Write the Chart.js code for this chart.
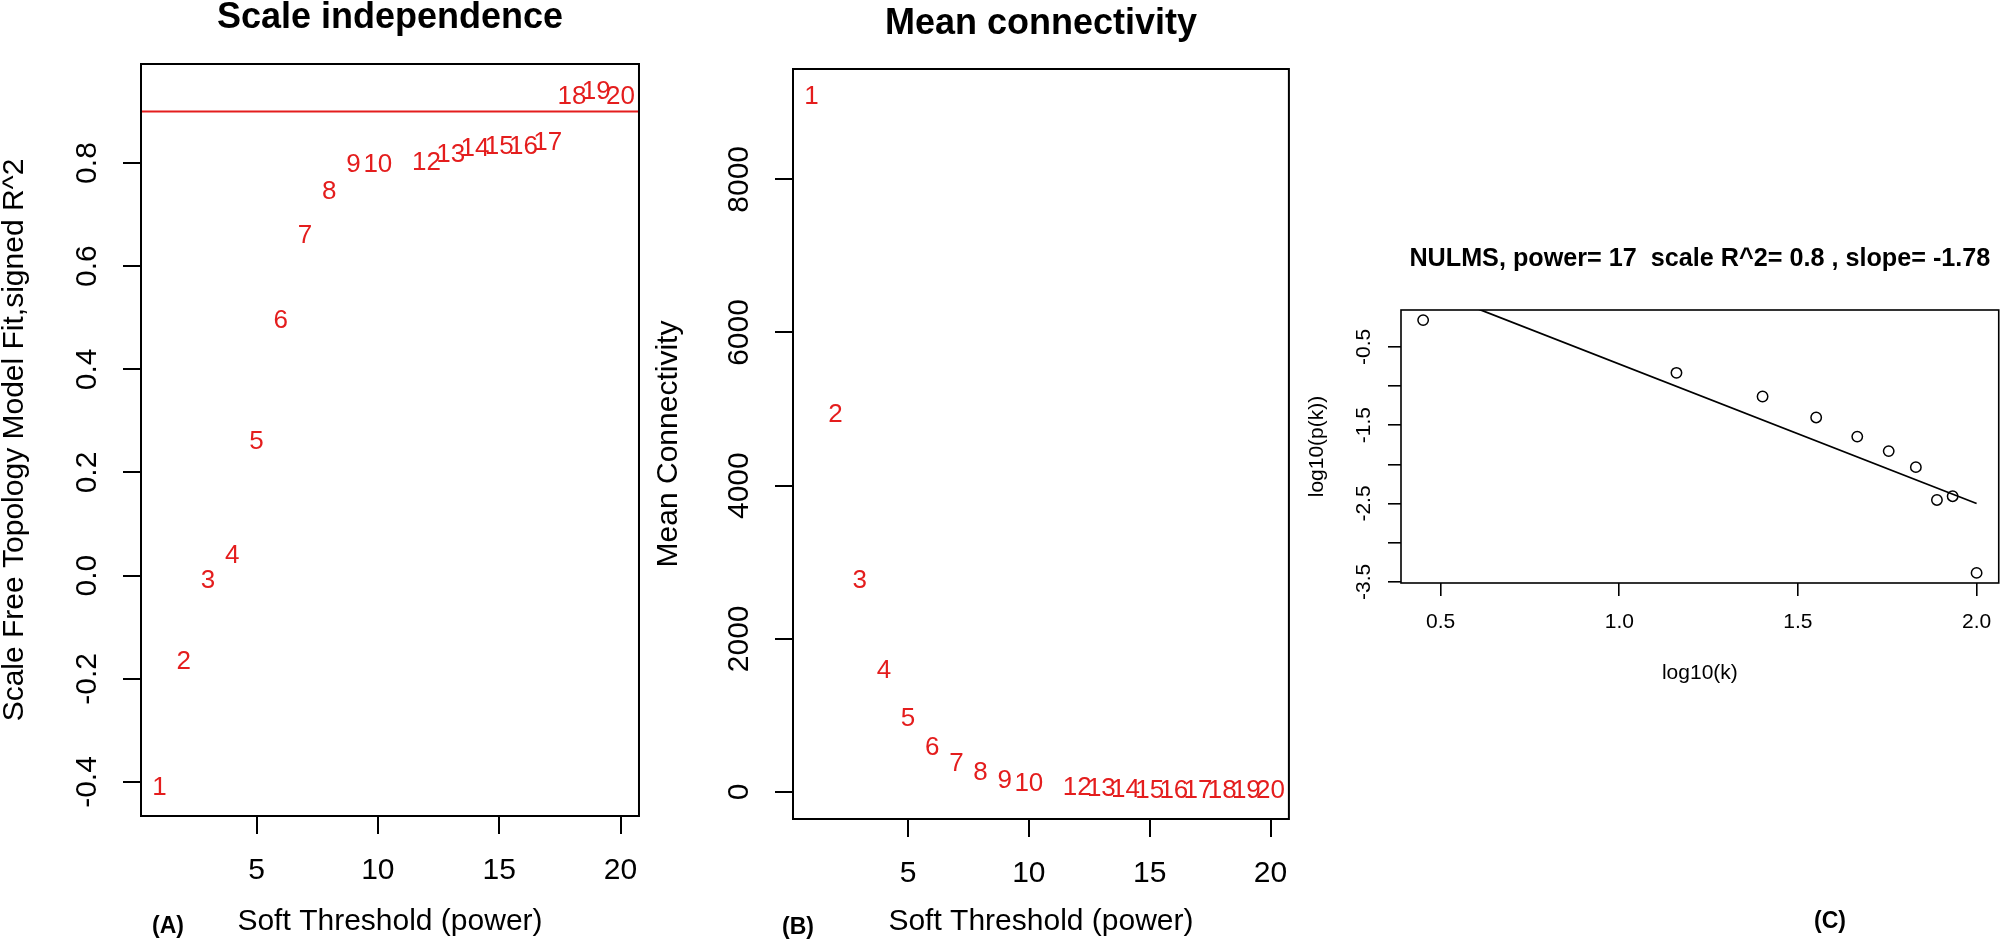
<!DOCTYPE html>
<html>
<head>
<meta charset="utf-8">
<title>Soft threshold selection</title>
<script src="https://cdn.jsdelivr.net/npm/chart.js@4.4.0/dist/chart.umd.min.js"></script>
<style>
  html, body { margin: 0; padding: 0; background: #fff; }
  body { width: 2007px; height: 947px; position: relative; overflow: hidden; }
  canvas { position: absolute; top: 0; }
  #chart-a { left: 0; }
  #chart-b { left: 650px; }
  #chart-c { left: 1295px; }
</style>
</head>
<body>
<canvas id="chart-a" width="660" height="947"></canvas>
<canvas id="chart-b" width="660" height="947"></canvas>
<canvas id="chart-c" width="712" height="947"></canvas>
<script>
// powers tested (11 is not in the run)
const powers = [1, 2, 3, 4, 5, 6, 7, 8, 9, 10, 12, 13, 14, 15, 16, 17, 18, 19, 20];
const scaleFitR2 = [-0.412, -0.167, -0.010, 0.039, 0.260, 0.495, 0.658, 0.745, 0.797, 0.797,
  0.800, 0.815, 0.828, 0.832, 0.832, 0.840, 0.928, 0.938, 0.928];
const meanConnectivity = [9078, 4923, 2756, 1585, 958, 580, 367, 248, 146, 107,
  48, 35, 27, 21, 17, 14, 12, 11, 10];
const r2Cutoff = 0.9;

const powerTicks = [5, 10, 15, 20];
const r2Ticks = [-0.4, -0.2, 0, 0.2, 0.4, 0.6, 0.8];
const connectivityTicks = [0, 2000, 4000, 6000, 8000];

// scale free topology check for the chosen power
const logK = [0.451, 1.160, 1.401, 1.551, 1.666, 1.754, 1.830, 1.889, 1.933, 2.000];
const logPk = [-0.159, -0.832, -1.134, -1.402, -1.646, -1.831, -2.036, -2.455, -2.407, -3.386];
const fitLineX = [0.451, 2.0];
const fitLineY = [0.257, -2.5];
const logKTicks = [0.5, 1.0, 1.5, 2.0];
const logPkTicks = [-3.5, -3.0, -2.5, -2.0, -1.5, -1.0, -0.5];
const logPkLabelled = [-3.5, -2.5, -1.5, -0.5];

const FONT = "'Liberation Sans', Arial, Helvetica, sans-serif";
const RED = "#e41d1d";

Chart.defaults.font.family = FONT;
Chart.defaults.color = "#000";

// R pads the data range by 4% on each side
function rRange(values) {
  const lo = Math.min(...values);
  const hi = Math.max(...values);
  const pad = (hi - lo) * 0.04;
  return { min: lo - pad, max: hi + pad };
}

const framePlugin = {
  id: "frame",
  afterDraw(chart, args, opts) {
    const { ctx, chartArea: a } = chart;
    ctx.save();
    ctx.strokeStyle = "#000";
    ctx.lineWidth = opts.width || 2;
    ctx.strokeRect(a.left, a.top, a.right - a.left, a.bottom - a.top);
    ctx.restore();
  },
};

const pointLabelPlugin = {
  id: "pointLabels",
  afterDatasetsDraw(chart, args, opts) {
    if (!opts.labels) {
      return;
    }
    const { ctx } = chart;
    const meta = chart.getDatasetMeta(0);
    ctx.save();
    ctx.font = `${opts.size}px ${FONT}`;
    ctx.fillStyle = opts.color;
    ctx.textAlign = "center";
    ctx.textBaseline = "middle";
    meta.data.forEach((point, i) => {
      ctx.fillText(String(opts.labels[i]), point.x, point.y);
    });
    ctx.restore();
  },
};

const panelTagPlugin = {
  id: "panelTag",
  afterDraw(chart, args, opts) {
    if (!opts.text) {
      return;
    }
    const { ctx } = chart;
    ctx.save();
    ctx.font = `bold ${opts.size}px ${FONT}`;
    ctx.fillStyle = "#000";
    ctx.textAlign = "center";
    ctx.textBaseline = "middle";
    ctx.fillText(opts.text, opts.x, opts.y);
    ctx.restore();
  },
};

function fixedTicks(values) {
  return (scale) => {
    scale.ticks = values.map((value) => ({ value }));
  };
}

function tickGrid(length, width) {
  return {
    display: true,
    drawOnChartArea: false,
    drawTicks: true,
    tickLength: length,
    tickWidth: width,
    tickColor: "#000",
    color: "#000",
    lineWidth: width,
  };
}

function powerPanel(canvasId, cfg) {
  const xRange = rRange(powers);
  const yRange = rRange(cfg.values);
  const datasets = [
    {
      data: powers.map((p, i) => ({ x: p, y: cfg.values[i] })),
      pointRadius: 0,
      showLine: false,
    },
  ];
  if (cfg.cutoff !== undefined) {
    datasets.push({
      type: "line",
      data: [
        { x: xRange.min, y: cfg.cutoff },
        { x: xRange.max, y: cfg.cutoff },
      ],
      borderColor: RED,
      borderWidth: 2,
      pointRadius: 0,
      clip: 0,
    });
  }

  return new Chart(document.getElementById(canvasId), {
    type: "scatter",
    data: { datasets },
    options: {
      responsive: false,
      animation: false,
      events: [],
      layout: { padding: { left: 0, top: 0, right: cfg.rightPad, bottom: 0 } },
      plugins: {
        legend: { display: false },
        tooltip: { enabled: false },
        title: {
          display: true,
          text: cfg.title,
          fullSize: false,
          color: "#000",
          font: { size: 36, weight: "bold", lineHeight: 1 },
          padding: cfg.titlePad,
        },
        pointLabels: { labels: powers, size: 26, color: RED },
        panelTag: cfg.tag,
        frame: { width: 2 },
      },
      scales: {
        x: {
          type: "linear",
          position: "bottom",
          bounds: "data",
          min: xRange.min,
          max: xRange.max,
          afterBuildTicks: fixedTicks(powerTicks),
          afterFit: (scale) => {
            scale.height = cfg.xHeight;
          },
          grid: tickGrid(18, 2),
          border: { display: false },
          ticks: {
            autoSkip: false,
            maxRotation: 0,
            padding: 22,
            font: { size: 30, lineHeight: 1 },
            callback: (v) => String(v),
          },
          title: {
            display: true,
            text: "Soft Threshold (power)",
            font: { size: 30, lineHeight: 1 },
            padding: { top: 0, bottom: 10 },
          },
        },
        y: {
          type: "linear",
          position: "left",
          bounds: "data",
          min: yRange.min,
          max: yRange.max,
          afterBuildTicks: fixedTicks(cfg.ticks),
          afterFit: (scale) => {
            scale.width = cfg.yWidth;
          },
          grid: tickGrid(18, 2),
          border: { display: false },
          ticks: {
            autoSkip: false,
            minRotation: 90,
            maxRotation: 90,
            crossAlign: "center",
            padding: cfg.yTickPad,
            font: { size: 30, lineHeight: 1 },
            callback: cfg.tickLabel,
          },
          title: {
            display: true,
            text: cfg.yTitle,
            font: { size: 30, lineHeight: 1 },
            padding: { top: cfg.yTitlePad, bottom: 0 },
          },
        },
      },
    },
    plugins: [framePlugin, pointLabelPlugin, panelTagPlugin],
  });
}

function renderScaleIndependence() {
  powerPanel("chart-a", {
    values: scaleFitR2,
    cutoff: r2Cutoff,
    title: "Scale independence",
    titlePad: { top: 0, bottom: 28 },
    rightPad: 21,
    xHeight: 131,
    yWidth: 141,
    yTickPad: 9,
    yTitlePad: 0,
    ticks: r2Ticks,
    tickLabel: (v) => v.toFixed(1),
    yTitle: "Scale Free Topology Model Fit,signed R^2",
    tag: { text: "(A)", size: 23, x: 168, y: 927 },
  });
}

function renderMeanConnectivity() {
  powerPanel("chart-b", {
    values: meanConnectivity,
    title: "Mean connectivity",
    titlePad: { top: 6, bottom: 27 },
    rightPad: 19,
    xHeight: 128,
    yWidth: 143,
    yTickPad: 2,
    yTitlePad: 4,
    ticks: connectivityTicks,
    tickLabel: (v) => String(v),
    yTitle: "Mean Connectivity",
    tag: { text: "(B)", size: 23, x: 148, y: 928 },
  });
}

function renderScaleFreeFit() {
  const xRange = rRange(logK);
  const yRange = rRange(logPk);

  new Chart(document.getElementById("chart-c"), {
    type: "scatter",
    data: {
      datasets: [
        {
          data: logK.map((k, i) => ({ x: k, y: logPk[i] })),
          pointStyle: "circle",
          pointRadius: 5.2,
          borderWidth: 1.5,
          borderColor: "#000",
          backgroundColor: "rgba(0,0,0,0)",
        },
        {
          type: "line",
          data: fitLineX.map((x, i) => ({ x, y: fitLineY[i] })),
          borderColor: "#000",
          borderWidth: 1.8,
          pointRadius: 0,
          clip: 0,
        },
      ],
    },
    options: {
      responsive: false,
      animation: false,
      events: [],
      layout: { padding: { left: 0, top: 0, right: 4, bottom: 0 } },
      plugins: {
        legend: { display: false },
        tooltip: { enabled: false },
        title: {
          display: true,
          text: "NULMS, power= 17  scale R^2= 0.8 , slope= -1.78",
          fullSize: false,
          color: "#000",
          font: { size: 25.2, weight: "bold", lineHeight: 1 },
          padding: { top: 246.4, bottom: 38.4 },
        },
        panelTag: { text: "(C)", size: 23, x: 535, y: 922 },
        frame: { width: 1.6 },
      },
      scales: {
        x: {
          type: "linear",
          position: "bottom",
          bounds: "data",
          min: xRange.min,
          max: xRange.max,
          afterBuildTicks: fixedTicks(logKTicks),
          afterFit: (scale) => {
            scale.height = 364;
          },
          grid: tickGrid(13, 1.6),
          border: { display: false },
          ticks: {
            autoSkip: false,
            maxRotation: 0,
            padding: 15.5,
            font: { size: 21, lineHeight: 1 },
            callback: (v) => v.toFixed(1),
          },
          title: {
            display: true,
            text: "log10(k)",
            font: { size: 21, lineHeight: 1 },
            padding: { top: 0, bottom: 263.5 },
          },
        },
        y: {
          type: "linear",
          position: "left",
          bounds: "data",
          min: yRange.min,
          max: yRange.max,
          afterBuildTicks: fixedTicks(logPkTicks),
          afterFit: (scale) => {
            scale.width = 106;
          },
          grid: tickGrid(13, 1.6),
          border: { display: false },
          ticks: {
            autoSkip: false,
            minRotation: 90,
            maxRotation: 90,
            crossAlign: "center",
            padding: 6,
            font: { size: 21, lineHeight: 1 },
            callback: (v) => (logPkLabelled.includes(v) ? v.toFixed(1) : ""),
          },
          title: {
            display: true,
            text: "log10(p(k))",
            font: { size: 21, lineHeight: 1 },
            padding: { top: 11.5, bottom: 0 },
          },
        },
      },
    },
    plugins: [framePlugin, panelTagPlugin],
  });
}

renderScaleIndependence();
renderMeanConnectivity();
renderScaleFreeFit();
</script>
</body>
</html>
